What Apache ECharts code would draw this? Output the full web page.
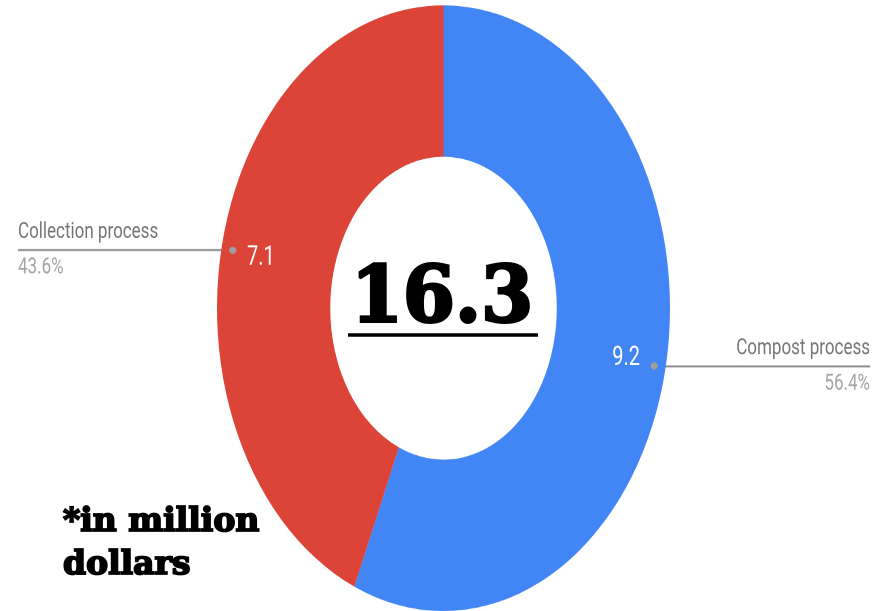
<!DOCTYPE html>
<html><head><meta charset="utf-8">
<script src="https://cdn.jsdelivr.net/npm/echarts@6/dist/echarts.min.js"></script>
<style>
html,body{margin:0;padding:0;background:#fff;overflow:hidden;}
#wrap{position:relative;width:879px;height:611px;}
#pie{position:absolute;left:0;top:0;width:879px;height:457px;transform:scale(1,1.337);transform-origin:0 0;}
#over{position:absolute;left:0;top:0;width:879px;height:611px;pointer-events:none;}
</style></head><body>
<div id="wrap"><div id="pie"></div><div id="over"></div></div>
<script>
// ---- data ----
const categories = ['Compost process', 'Collection process'];
const values = [9.2, 7.1];
const colors = ['#4285F4', '#DB4437'];
const edgeDistances = [9, 18];
const noteText = '*in million\ndollars';

// ---- geometry (unscaled pie canvas; stretched vertically by CSS) ----
const CX = 443.5, CY = 230.5, R = 226.5;
const total = values.reduce((a, b) => a + b, 0);

const pieChart = echarts.init(document.getElementById('pie'), null, {devicePixelRatio: 2});

// dots at the start of each leader line, derived from the data's mid angles
const dotR = R * 0.95;
let cum = 0;
const dots = values.map((v) => {
  const mid = (cum + v / 2) / total;
  cum += v;
  const th = (90 - mid * 360) * Math.PI / 180;
  return {
    type: 'ellipse',
    shape: {cx: CX + dotR * Math.cos(th), cy: CY - dotR * Math.sin(th), rx: 3.6, ry: 2.7},
    style: {fill: '#9e9e9e'},
    z: 100
  };
});

const lineColor = '#8f8f8f';
pieChart.setOption({
  animation: false,
  graphic: dots,
  series: [
    {
      type: 'pie', center: [CX, CY], radius: [R * 0.5, R], startAngle: 90, clockwise: true,
      silent: true, label: {show: false}, labelLine: {show: false},
      emphasis: {disabled: true},
      data: categories.map((n, i) => ({name: n, value: values[i], itemStyle: {color: colors[i]}}))
    },
    {
      type: 'pie', center: [CX, CY], radius: [R * 0.62, R], startAngle: 90, clockwise: true,
      silent: true, emphasis: {disabled: true},
      itemStyle: {color: 'rgba(0,0,0,0)'},
      label: {show: true, position: 'inside', color: '#ffffff', fontFamily: 'Roboto', fontSize: 20,
        formatter: (p) => p.value.toFixed(1)},
      labelLine: {show: false},
      data: categories.map((n, i) => ({name: n, value: values[i]}))
    },
    {
      type: 'pie', center: [CX, CY], radius: [0, R * 0.95], startAngle: 90, clockwise: true,
      silent: true, emphasis: {disabled: true}, percentPrecision: 1,
      itemStyle: {color: 'rgba(0,0,0,0)'},
      label: {
        show: true, position: 'outside', alignTo: 'edge', distanceToLabelLine: 0,
        formatter: '{a|{b}}\n{hr|}\n{c|{d}%}',
        rich: {
          a: {fontFamily: 'Roboto', fontSize: 17, color: '#757575', lineHeight: 25},
          hr: {width: '100%', height: 1.5, lineHeight: 1.5, backgroundColor: lineColor},
          c: {fontFamily: 'Roboto', fontSize: 17, color: '#a3a3a3', lineHeight: 25}
        }
      },
      labelLine: {show: true, length: 1, length2: 10, lineStyle: {color: lineColor, width: 1.5}},
      data: categories.map((n, i) => ({name: n, value: values[i], label: {edgeDistance: edgeDistances[i]}}))
    }
  ]
});

// ---- overlay (unstretched) ----
const over = echarts.init(document.getElementById('over'), null, {devicePixelRatio: 2});
over.setOption({
  animation: false,
  graphic: [
    {
      type: 'text', x: 442, y: 301, scaleX: 0.96,
      style: {text: total.toFixed(1), fontFamily: 'DejaVu Serif', fontWeight: 'bold', fontSize: 78,
        fill: '#000', stroke: '#000', lineWidth: 3, align: 'center', verticalAlign: 'middle'}
    },
    {
      type: 'line', shape: {x1: 348, y1: 335, x2: 538, y2: 335},
      style: {stroke: '#000', lineWidth: 3.5}
    },
    {
      type: 'text', x: 63, y: 544,
      style: {text: noteText, fontFamily: 'DejaVu Serif', fontWeight: 'bold', fontSize: 33, lineHeight: 43,
        fill: '#000', stroke: '#000', lineWidth: 1.8, align: 'left', verticalAlign: 'middle'}
    }
  ]
});
</script>
</body></html>
